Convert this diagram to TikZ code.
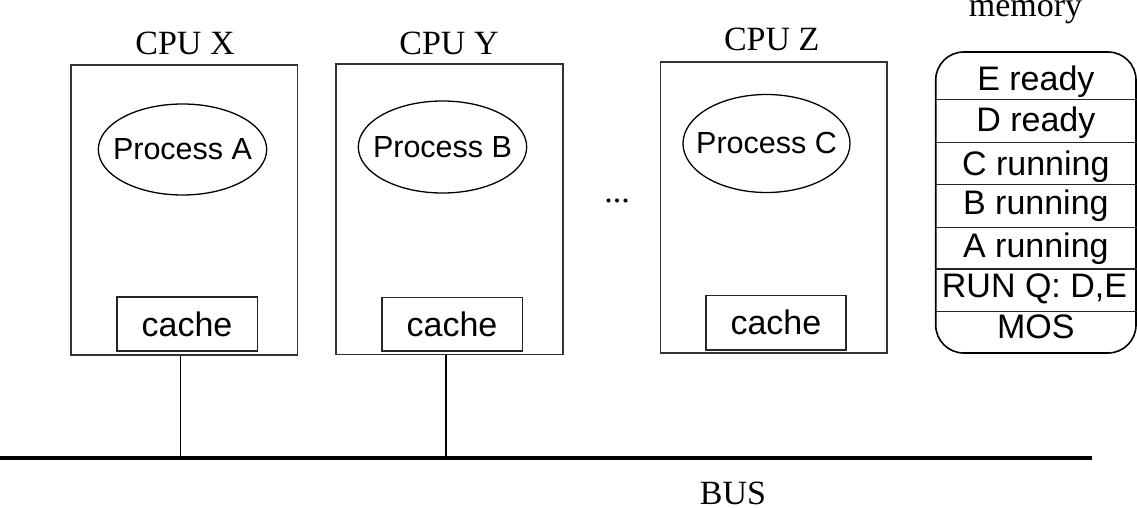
\documentclass[tikz,border=0pt]{standalone}
\usepackage{fontspec}
\setmainfont{Liberation Serif}
\newfontfamily\arial{Liberation Sans}
\usetikzlibrary{shapes.geometric}

\tikzset{
  cpubox/.style={draw=black!80, line width=1.6pt, rectangle, inner sep=0pt},
  procnode/.style={draw=black, ellipse, line width=1.3pt, inner sep=0pt},
  proctext/.style={inner sep=0pt, font=\arial\fontsize{30.5}{36}\selectfont},
  cachebox/.style={draw=black!85, line width=1.6pt, rectangle, inner sep=0pt,
                   font=\arial\fontsize{34}{40}\selectfont},
  seriflabel/.style={font=\fontsize{34}{40}\selectfont, anchor=base, inner sep=0pt},
  memrow/.style={font=\arial\fontsize{34}{40}\selectfont, anchor=base, inner sep=0pt},
  memorybox/.style={draw=black, line width=1.6pt, rectangle, rounded corners=28pt, inner sep=0pt},
  divider/.style={draw=black!85, line width=1.5pt},
  tap/.style={draw=black, line width=1.5pt},
  busline/.style={draw=black, line width=4pt},
}

\begin{document}
\begin{tikzpicture}[x=1pt, y=-1pt]
  \useasboundingbox (0,0) rectangle (1137,508);

  % processor boxes
  \node[cpubox, minimum width=226.5, minimum height=290] (cpux) at (184.25,210) {};
  \node[cpubox, minimum width=226.7, minimum height=290.3] (cpuy) at (449.35,209.15) {};
  \node[cpubox, minimum width=226.4, minimum height=290.4] (cpuz) at (773.5,207.5) {};

  % processor titles
  \node[seriflabel] (labx) at (185,54.6) {CPU X};
  \node[seriflabel] (laby) at (449,54.6) {CPU Y};
  \node[seriflabel] (labz) at (771.7,50.7) {CPU Z};

  % processes: outline first, then the name centred in it
  \node[procnode, minimum width=168.4, minimum height=91] (pa) at (182.5,149.5) {};
  \node[procnode, minimum width=168.4, minimum height=92] (pb) at (442.5,147) {};
  \node[procnode, minimum width=167, minimum height=98] (pc) at (766.5,143.5) {};
  \node[proctext] (pat) at (pa.center) {Process A};
  \node[proctext] (pbt) at (pb.center) {Process B};
  \node[proctext] (pct) at (pc.center) {Process C};

  % caches
  \node[cachebox, minimum width=140.6, minimum height=54] (cachex) at (187,324) {cache};
  \node[cachebox, minimum width=140.6, minimum height=53.7] (cachey) at (452,324.2) {cache};
  \node[cachebox, minimum width=140.3, minimum height=54.7] (cachez) at (775.9,322.7) {cache};

  % ellipsis between processors
  \node[seriflabel] (dots) at (617,202.5) {...};

  % bus
  \coordinate (busl) at (0,458.3);
  \coordinate (busr) at (1092,458.3);
  \draw[busline] (busl) -- (busr);
  \node[seriflabel] (buslabel) at (733,504.5) {BUS};

  % bus taps
  \coordinate (tapx) at (180.7,458.3);
  \coordinate (tapy) at (445.8,458.3);
  \draw[tap] (cpux.south -| tapx) -- (tapx);
  \draw[tap] (cpuy.south -| tapy) -- (tapy);

  % shared memory
  \node[seriflabel] (memlabel) at (1025.5,16.5) {memory};
  \node[memorybox, minimum width=200.3, minimum height=301] (mem) at (1035.85,202.5) {};
  \foreach \yy in {99.3,142.7,184.3,227.3,269,311.7}{
    \draw[divider] (mem.west |- 0,\yy) -- (mem.east |- 0,\yy);
  }
  \node[memrow] (rowe) at (1035.85,90.7) {E ready};
  \node[memrow] (rowd) at (1035.85,131.7) {D ready};
  \node[memrow] (rowc) at (1035.85,175) {C running};
  \node[memrow] (rowb) at (1035.85,214.3) {B running};
  \node[memrow] (rowa) at (1035.85,257.7) {A running};
  \node[memrow] (rowq) at (1034.5,297.7) {RUN Q: D,E};
  \node[memrow] (rowm) at (1035.85,338.3) {MOS};
\end{tikzpicture}
\end{document}
